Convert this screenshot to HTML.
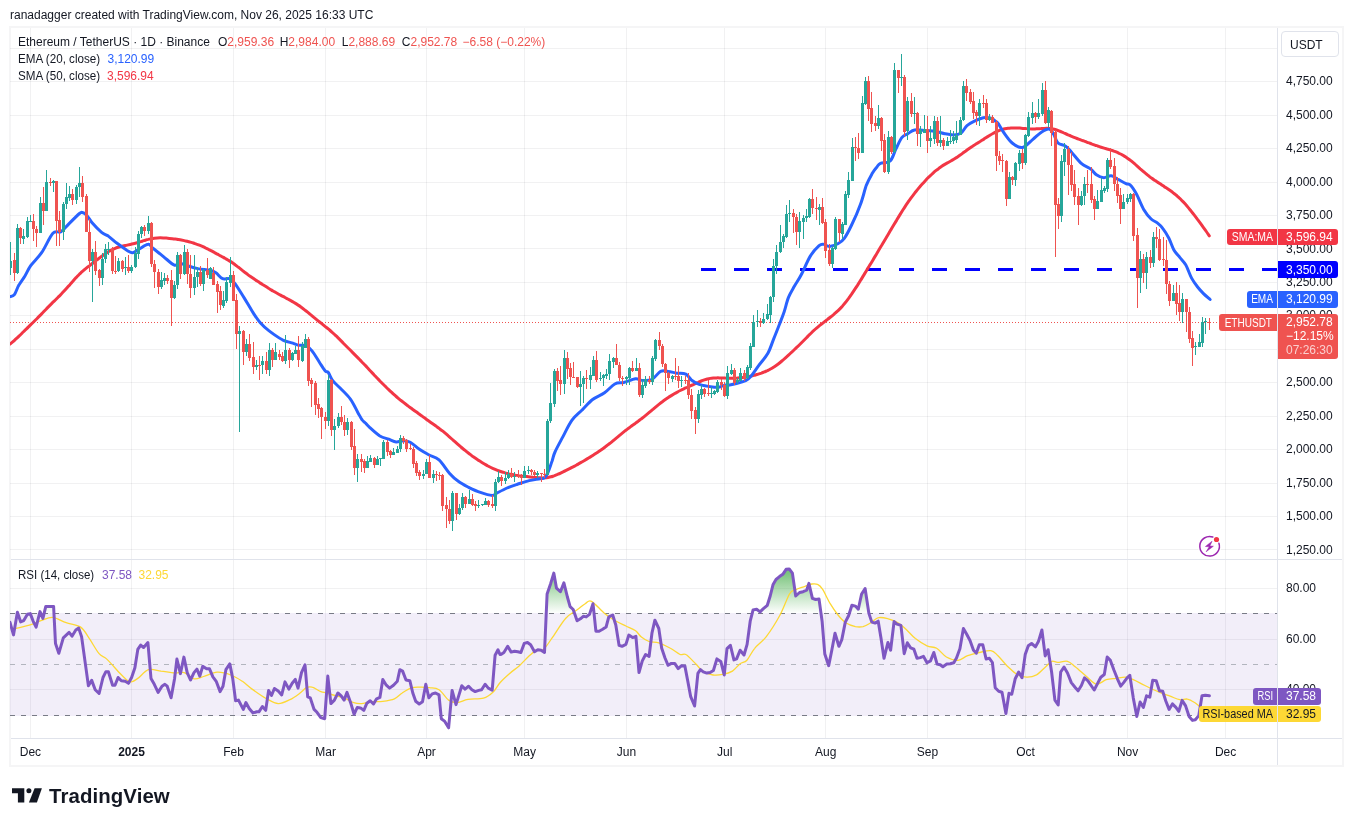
<!DOCTYPE html>
<html><head><meta charset="utf-8"><title>ETHUSDT chart</title>
<style>
html,body{margin:0;padding:0;background:#fff}
body{width:1353px;height:826px;position:relative;overflow:hidden;font-family:"Liberation Sans",sans-serif}
.t{position:absolute;white-space:nowrap;font-family:"Liberation Sans",sans-serif}
.b{position:absolute;box-sizing:border-box}
</style></head><body>
<svg width="1353" height="826" viewBox="0 0 1353 826" style="position:absolute;left:0;top:0"><defs><clipPath id="cm"><rect x="10" y="28" width="1267.5" height="531"/></clipPath><clipPath id="cr"><rect x="10" y="560" width="1267.5" height="178.5"/></clipPath><linearGradient id="gg" gradientUnits="userSpaceOnUse" x1="0" y1="572" x2="0" y2="613.6"><stop offset="0" stop-color="#4caf50" stop-opacity="0.75"/><stop offset="1" stop-color="#4caf50" stop-opacity="0"/></linearGradient><clipPath id="c70"><rect x="10" y="560" width="1267.5" height="53.6"/></clipPath></defs><rect x="10" y="27" width="1333" height="739" stroke="#f5f5f6" stroke-width="2" fill="none" shape-rendering="crispEdges"/><path d="M30.5,28V738M131.5,28V738M233.5,28V738M325.5,28V738M426.5,28V738M524.5,28V738M626.5,28V738M724.5,28V738M825.5,28V738M927.5,28V738M1025.5,28V738M1127.5,28V738M1225.5,28V738" stroke="rgba(42,46,57,0.065)" stroke-width="1" fill="none" shape-rendering="crispEdges"/><path d="M10,48.5H1277M10,81.5H1277M10,115.5H1277M10,148.5H1277M10,182.5H1277M10,215.5H1277M10,248.5H1277M10,282.5H1277M10,315.5H1277M10,349.5H1277M10,382.5H1277M10,416.5H1277M10,449.5H1277M10,483.5H1277M10,516.5H1277M10,549.5H1277M10,588.5H1277M10,639.5H1277M10,689.5H1277" stroke="rgba(42,46,57,0.065)" stroke-width="1" fill="none" shape-rendering="crispEdges"/><rect x="10" y="613" width="1267.5" height="103" fill="#7e57c2" fill-opacity="0.1"/><path d="M10,613.5H1277.5" stroke="#787b86" stroke-width="1" stroke-dasharray="5 6" fill="none" shape-rendering="crispEdges"/><path d="M10,664.5H1277.5" stroke="#b2b5be" stroke-width="1" stroke-dasharray="5 6" fill="none" shape-rendering="crispEdges"/><path d="M10,715.5H1277.5" stroke="#787b86" stroke-width="1" stroke-dasharray="5 6" fill="none" shape-rendering="crispEdges"/><g clip-path="url(#cm)"><path d="M10,322.5H1219" stroke="#ef5350" stroke-width="1" stroke-dasharray="1 2" fill="none" shape-rendering="crispEdges"/><path d="M701,269.5H1278" stroke="#0000ff" stroke-width="3" stroke-dasharray="15 18" fill="none"/><path d="M10.0,344.2C10.5,343.8 12.0,342.6 13.0,341.7C14.0,340.8 15.0,339.8 16.0,338.9C17.0,338.0 18.0,337.1 19.0,336.1C20.0,335.2 21.0,334.2 22.0,333.2C23.0,332.2 24.0,331.3 25.0,330.3C26.0,329.3 27.0,328.4 28.0,327.4C29.0,326.4 30.0,325.4 31.0,324.4C32.0,323.5 33.0,322.5 34.0,321.5C35.0,320.5 36.0,319.5 37.1,318.5C38.1,317.4 39.1,316.4 40.1,315.4C41.1,314.4 42.1,313.3 43.1,312.3C44.1,311.2 45.1,310.2 46.1,309.2C47.1,308.1 48.1,307.1 49.1,306.1C50.1,305.1 51.1,304.1 52.1,303.1C53.1,302.1 54.1,301.2 55.1,300.2C56.1,299.2 57.1,298.2 58.1,297.2C59.1,296.3 60.1,295.3 61.1,294.2C62.1,293.2 63.1,292.2 64.1,291.1C65.1,290.0 66.1,288.9 67.1,287.8C68.1,286.7 69.1,285.5 70.1,284.4C71.1,283.2 72.1,282.1 73.1,281.0C74.1,279.8 75.1,278.7 76.1,277.6C77.1,276.6 78.1,275.5 79.1,274.5C80.1,273.6 81.1,272.6 82.1,271.7C83.1,270.8 84.1,270.0 85.1,269.1C86.1,268.3 87.1,267.5 88.1,266.7C89.2,265.9 90.2,265.1 91.2,264.3C92.2,263.6 93.2,262.8 94.2,262.0C95.2,261.3 96.2,260.5 97.2,259.7C98.2,259.0 99.2,258.2 100.2,257.4C101.2,256.7 102.2,255.9 103.2,255.2C104.2,254.5 105.2,253.8 106.2,253.2C107.2,252.5 108.2,251.9 109.2,251.3C110.2,250.7 111.2,250.2 112.2,249.7C113.2,249.2 114.2,248.7 115.2,248.3C116.2,247.9 117.2,247.6 118.2,247.3C119.2,246.9 120.2,246.7 121.2,246.4C122.2,246.2 123.2,246.0 124.2,245.7C125.2,245.5 126.2,245.4 127.2,245.1C128.2,244.9 129.2,244.7 130.2,244.5C131.2,244.3 132.2,244.1 133.2,243.8C134.2,243.6 135.2,243.3 136.2,243.0C137.2,242.8 138.2,242.4 139.2,242.1C140.2,241.8 141.3,241.5 142.3,241.2C143.3,240.9 144.3,240.5 145.3,240.2C146.3,239.9 147.3,239.6 148.3,239.4C149.3,239.1 150.3,238.9 151.3,238.7C152.3,238.5 153.3,238.3 154.3,238.2C155.3,238.1 156.3,238.0 157.3,237.9C158.3,237.8 159.3,237.8 160.3,237.8C161.3,237.8 162.3,237.8 163.3,237.9C164.3,237.9 165.3,238.0 166.3,238.1C167.3,238.2 168.3,238.3 169.3,238.4C170.3,238.5 171.3,238.6 172.3,238.7C173.3,238.8 174.3,239.0 175.3,239.1C176.3,239.2 177.3,239.4 178.3,239.5C179.3,239.7 180.3,239.9 181.3,240.0C182.3,240.2 183.3,240.4 184.3,240.6C185.3,240.8 186.3,241.1 187.3,241.3C188.3,241.6 189.3,241.8 190.3,242.1C191.3,242.4 192.3,242.7 193.4,243.0C194.4,243.4 195.4,243.7 196.4,244.1C197.4,244.4 198.4,244.8 199.4,245.2C200.4,245.6 201.4,246.0 202.4,246.4C203.4,246.8 204.4,247.3 205.4,247.8C206.4,248.2 207.4,248.7 208.4,249.3C209.4,249.8 210.4,250.3 211.4,250.8C212.4,251.4 213.4,251.9 214.4,252.5C215.4,253.1 216.4,253.6 217.4,254.2C218.4,254.7 219.4,255.3 220.4,255.8C221.4,256.4 222.4,256.9 223.4,257.4C224.4,258.0 225.4,258.5 226.4,259.1C227.4,259.7 228.4,260.3 229.4,260.9C230.4,261.5 231.4,262.1 232.4,262.8C233.4,263.5 234.4,264.2 235.4,265.0C236.4,265.7 237.4,266.5 238.4,267.2C239.4,268.0 240.4,268.8 241.4,269.6C242.4,270.4 243.4,271.2 244.4,272.0C245.5,272.8 246.5,273.6 247.5,274.3C248.5,275.1 249.5,275.8 250.5,276.5C251.5,277.2 252.5,277.9 253.5,278.6C254.5,279.3 255.5,280.0 256.5,280.6C257.5,281.3 258.5,281.9 259.5,282.6C260.5,283.2 261.5,283.8 262.5,284.5C263.5,285.1 264.5,285.7 265.5,286.3C266.5,287.0 267.5,287.6 268.5,288.2C269.5,288.8 270.5,289.5 271.5,290.1C272.5,290.7 273.5,291.2 274.5,291.8C275.5,292.4 276.5,293.0 277.5,293.5C278.5,294.1 279.5,294.6 280.5,295.1C281.5,295.7 282.5,296.2 283.5,296.7C284.5,297.2 285.5,297.8 286.5,298.3C287.5,298.8 288.5,299.3 289.5,299.9C290.5,300.4 291.5,301.0 292.5,301.6C293.5,302.2 294.5,302.8 295.5,303.4C296.5,304.0 297.6,304.7 298.6,305.4C299.6,306.0 300.6,306.8 301.6,307.5C302.6,308.2 303.6,309.0 304.6,309.8C305.6,310.6 306.6,311.4 307.6,312.2C308.6,313.0 309.6,313.8 310.6,314.7C311.6,315.5 312.6,316.3 313.6,317.2C314.6,318.0 315.6,318.8 316.6,319.6C317.6,320.4 318.6,321.2 319.6,322.0C320.6,322.8 321.6,323.6 322.6,324.4C323.6,325.2 324.6,326.0 325.6,326.8C326.6,327.6 327.6,328.4 328.6,329.2C329.6,330.1 330.6,330.9 331.6,331.8C332.6,332.7 333.6,333.6 334.6,334.5C335.6,335.5 336.6,336.4 337.6,337.4C338.6,338.4 339.6,339.4 340.6,340.4C341.6,341.4 342.6,342.4 343.6,343.5C344.6,344.5 345.6,345.5 346.6,346.5C347.6,347.5 348.6,348.5 349.7,349.5C350.7,350.6 351.7,351.6 352.7,352.6C353.7,353.6 354.7,354.6 355.7,355.6C356.7,356.6 357.7,357.6 358.7,358.6C359.7,359.6 360.7,360.7 361.7,361.7C362.7,362.7 363.7,363.8 364.7,364.8C365.7,365.9 366.7,367.0 367.7,368.0C368.7,369.1 369.7,370.2 370.7,371.2C371.7,372.3 372.7,373.4 373.7,374.4C374.7,375.5 375.7,376.5 376.7,377.6C377.7,378.6 378.7,379.7 379.7,380.7C380.7,381.7 381.7,382.8 382.7,383.8C383.7,384.8 384.7,385.8 385.7,386.7C386.7,387.7 387.7,388.7 388.7,389.6C389.7,390.6 390.7,391.5 391.7,392.4C392.7,393.4 393.7,394.3 394.7,395.2C395.7,396.1 396.7,396.9 397.7,397.8C398.7,398.7 399.7,399.5 400.7,400.3C401.8,401.1 402.8,401.9 403.8,402.7C404.8,403.5 405.8,404.3 406.8,405.0C407.8,405.7 408.8,406.5 409.8,407.2C410.8,407.9 411.8,408.7 412.8,409.4C413.8,410.1 414.8,410.8 415.8,411.6C416.8,412.3 417.8,413.0 418.8,413.8C419.8,414.5 420.8,415.2 421.8,415.9C422.8,416.7 423.8,417.4 424.8,418.1C425.8,418.8 426.8,419.6 427.8,420.3C428.8,421.0 429.8,421.7 430.8,422.4C431.8,423.1 432.8,423.8 433.8,424.5C434.8,425.2 435.8,425.9 436.8,426.7C437.8,427.4 438.8,428.1 439.8,428.9C440.8,429.6 441.8,430.4 442.8,431.2C443.8,432.0 444.8,432.9 445.8,433.7C446.8,434.6 447.8,435.5 448.8,436.3C449.8,437.2 450.8,438.1 451.8,439.0C452.8,439.9 453.9,440.8 454.9,441.7C455.9,442.6 456.9,443.5 457.9,444.4C458.9,445.3 459.9,446.1 460.9,447.0C461.9,447.8 462.9,448.7 463.9,449.5C464.9,450.3 465.9,451.1 466.9,451.9C467.9,452.7 468.9,453.5 469.9,454.2C470.9,455.0 471.9,455.7 472.9,456.5C473.9,457.2 474.9,457.9 475.9,458.6C476.9,459.3 477.9,460.0 478.9,460.6C479.9,461.3 480.9,461.9 481.9,462.5C482.9,463.1 483.9,463.7 484.9,464.3C485.9,464.9 486.9,465.4 487.9,466.0C488.9,466.5 489.9,467.0 490.9,467.5C491.9,468.0 492.9,468.5 493.9,468.9C494.9,469.4 495.9,469.8 496.9,470.2C497.9,470.6 498.9,470.9 499.9,471.3C500.9,471.6 501.9,471.9 502.9,472.2C503.9,472.6 504.9,472.8 506.0,473.1C507.0,473.4 508.0,473.6 509.0,473.9C510.0,474.1 511.0,474.3 512.0,474.5C513.0,474.7 514.0,474.9 515.0,475.1C516.0,475.3 517.0,475.5 518.0,475.6C519.0,475.8 520.0,475.9 521.0,476.0C522.0,476.2 523.0,476.3 524.0,476.4C525.0,476.5 526.0,476.5 527.0,476.6C528.0,476.7 529.0,476.8 530.0,476.9C531.0,477.0 532.0,477.1 533.0,477.2C534.0,477.2 535.0,477.3 536.0,477.4C537.0,477.5 538.0,477.6 539.0,477.7C540.0,477.8 541.0,477.8 542.0,477.9C543.0,477.9 544.0,477.9 545.0,477.8C546.0,477.8 547.0,477.7 548.0,477.5C549.0,477.3 550.0,477.1 551.0,476.8C552.0,476.6 553.0,476.2 554.0,475.9C555.0,475.5 556.0,475.1 557.0,474.7C558.1,474.2 559.1,473.8 560.1,473.3C561.1,472.8 562.1,472.3 563.1,471.8C564.1,471.4 565.1,470.9 566.1,470.4C567.1,469.9 568.1,469.4 569.1,468.9C570.1,468.4 571.1,467.8 572.1,467.3C573.1,466.8 574.1,466.3 575.1,465.8C576.1,465.2 577.1,464.7 578.1,464.1C579.1,463.6 580.1,463.0 581.1,462.4C582.1,461.9 583.1,461.3 584.1,460.7C585.1,460.1 586.1,459.5 587.1,458.9C588.1,458.3 589.1,457.7 590.1,457.1C591.1,456.5 592.1,455.9 593.1,455.2C594.1,454.6 595.1,454.0 596.1,453.3C597.1,452.7 598.1,452.0 599.1,451.3C600.1,450.6 601.1,449.9 602.1,449.2C603.1,448.5 604.1,447.8 605.1,447.0C606.1,446.3 607.1,445.5 608.1,444.7C609.1,443.9 610.2,443.1 611.2,442.3C612.2,441.5 613.2,440.7 614.2,439.8C615.2,439.0 616.2,438.1 617.2,437.3C618.2,436.5 619.2,435.6 620.2,434.8C621.2,434.0 622.2,433.2 623.2,432.4C624.2,431.6 625.2,430.8 626.2,430.0C627.2,429.3 628.2,428.5 629.2,427.8C630.2,427.0 631.2,426.3 632.2,425.5C633.2,424.8 634.2,424.1 635.2,423.4C636.2,422.6 637.2,421.9 638.2,421.2C639.2,420.4 640.2,419.7 641.2,418.9C642.2,418.2 643.2,417.4 644.2,416.6C645.2,415.8 646.2,415.0 647.2,414.2C648.2,413.4 649.2,412.6 650.2,411.7C651.2,410.9 652.2,410.0 653.2,409.2C654.2,408.3 655.2,407.5 656.2,406.6C657.2,405.8 658.2,405.0 659.2,404.2C660.2,403.4 661.2,402.6 662.3,401.8C663.3,401.0 664.3,400.3 665.3,399.6C666.3,398.9 667.3,398.2 668.3,397.5C669.3,396.8 670.3,396.2 671.3,395.6C672.3,395.0 673.3,394.4 674.3,393.8C675.3,393.2 676.3,392.6 677.3,392.1C678.3,391.5 679.3,391.0 680.3,390.5C681.3,390.0 682.3,389.5 683.3,389.1C684.3,388.6 685.3,388.1 686.3,387.7C687.3,387.2 688.3,386.8 689.3,386.3C690.3,385.9 691.3,385.4 692.3,385.0C693.3,384.5 694.3,384.1 695.3,383.6C696.3,383.2 697.3,382.7 698.3,382.3C699.3,381.8 700.3,381.4 701.3,381.0C702.3,380.6 703.3,380.3 704.3,379.9C705.3,379.6 706.3,379.3 707.3,379.0C708.3,378.8 709.3,378.6 710.3,378.4C711.3,378.2 712.3,378.1 713.3,378.0C714.4,377.9 715.4,377.9 716.4,377.9C717.4,377.8 718.4,377.8 719.4,377.9C720.4,377.9 721.4,377.9 722.4,378.0C723.4,378.0 724.4,378.0 725.4,378.1C726.4,378.1 727.4,378.2 728.4,378.2C729.4,378.2 730.4,378.2 731.4,378.2C732.4,378.2 733.4,378.2 734.4,378.2C735.4,378.2 736.4,378.1 737.4,378.1C738.4,378.0 739.4,377.9 740.4,377.8C741.4,377.7 742.4,377.6 743.4,377.5C744.4,377.4 745.4,377.2 746.4,377.0C747.4,376.9 748.4,376.7 749.4,376.4C750.4,376.2 751.4,376.0 752.4,375.8C753.4,375.5 754.4,375.3 755.4,375.0C756.4,374.7 757.4,374.4 758.4,374.1C759.4,373.8 760.4,373.4 761.4,373.1C762.4,372.7 763.4,372.3 764.4,371.9C765.4,371.5 766.5,371.0 767.5,370.6C768.5,370.1 769.5,369.6 770.5,369.0C771.5,368.5 772.5,367.9 773.5,367.2C774.5,366.6 775.5,365.9 776.5,365.2C777.5,364.5 778.5,363.8 779.5,363.0C780.5,362.2 781.5,361.3 782.5,360.5C783.5,359.6 784.5,358.7 785.5,357.8C786.5,356.9 787.5,356.0 788.5,355.1C789.5,354.2 790.5,353.3 791.5,352.3C792.5,351.4 793.5,350.5 794.5,349.5C795.5,348.6 796.5,347.6 797.5,346.7C798.5,345.7 799.5,344.7 800.5,343.7C801.5,342.7 802.5,341.7 803.5,340.7C804.5,339.7 805.5,338.7 806.5,337.7C807.5,336.7 808.5,335.6 809.5,334.6C810.5,333.7 811.5,332.7 812.5,331.7C813.5,330.8 814.5,329.9 815.5,329.0C816.5,328.1 817.5,327.3 818.6,326.4C819.6,325.6 820.6,324.8 821.6,324.0C822.6,323.2 823.6,322.4 824.6,321.6C825.6,320.8 826.6,320.1 827.6,319.3C828.6,318.6 829.6,317.8 830.6,317.0C831.6,316.2 832.6,315.4 833.6,314.6C834.6,313.7 835.6,312.9 836.6,311.9C837.6,311.0 838.6,310.1 839.6,309.1C840.6,308.1 841.6,307.0 842.6,305.9C843.6,304.7 844.6,303.5 845.6,302.3C846.6,301.0 847.6,299.7 848.6,298.4C849.6,297.0 850.6,295.6 851.6,294.2C852.6,292.7 853.6,291.2 854.6,289.7C855.6,288.2 856.6,286.6 857.6,285.1C858.6,283.5 859.6,281.9 860.6,280.3C861.6,278.7 862.6,277.0 863.6,275.4C864.6,273.7 865.6,272.1 866.6,270.4C867.6,268.7 868.6,267.1 869.6,265.4C870.7,263.7 871.7,262.1 872.7,260.4C873.7,258.7 874.7,257.0 875.7,255.4C876.7,253.7 877.7,252.0 878.7,250.3C879.7,248.6 880.7,246.9 881.7,245.3C882.7,243.6 883.7,241.9 884.7,240.2C885.7,238.5 886.7,236.9 887.7,235.2C888.7,233.5 889.7,231.8 890.7,230.1C891.7,228.5 892.7,226.8 893.7,225.1C894.7,223.4 895.7,221.7 896.7,220.1C897.7,218.4 898.7,216.7 899.7,215.1C900.7,213.5 901.7,211.9 902.7,210.3C903.7,208.7 904.7,207.1 905.7,205.6C906.7,204.1 907.7,202.7 908.7,201.2C909.7,199.8 910.7,198.5 911.7,197.1C912.7,195.8 913.7,194.5 914.7,193.2C915.7,191.9 916.7,190.7 917.7,189.4C918.7,188.2 919.7,187.0 920.7,185.8C921.7,184.7 922.8,183.5 923.8,182.4C924.8,181.3 925.8,180.2 926.8,179.1C927.8,178.1 928.8,177.0 929.8,176.1C930.8,175.1 931.8,174.2 932.8,173.3C933.8,172.4 934.8,171.5 935.8,170.7C936.8,169.9 937.8,169.1 938.8,168.4C939.8,167.6 940.8,167.0 941.8,166.3C942.8,165.6 943.8,165.0 944.8,164.4C945.8,163.8 946.8,163.2 947.8,162.7C948.8,162.1 949.8,161.5 950.8,161.0C951.8,160.4 952.8,159.8 953.8,159.2C954.8,158.6 955.8,158.0 956.8,157.4C957.8,156.7 958.8,156.0 959.8,155.3C960.8,154.6 961.8,153.9 962.8,153.1C963.8,152.4 964.8,151.7 965.8,151.0C966.8,150.2 967.8,149.5 968.8,148.8C969.8,148.1 970.8,147.4 971.8,146.7C972.8,146.1 973.8,145.4 974.9,144.8C975.9,144.2 976.9,143.5 977.9,142.9C978.9,142.3 979.9,141.6 980.9,141.0C981.9,140.4 982.9,139.7 983.9,139.1C984.9,138.4 985.9,137.8 986.9,137.1C987.9,136.5 988.9,135.9 989.9,135.3C990.9,134.6 991.9,134.0 992.9,133.5C993.9,132.9 994.9,132.4 995.9,131.9C996.9,131.4 997.9,131.0 998.9,130.6C999.9,130.2 1000.9,129.9 1001.9,129.6C1002.9,129.3 1003.9,129.0 1004.9,128.8C1005.9,128.6 1006.9,128.4 1007.9,128.3C1008.9,128.2 1009.9,128.1 1010.9,128.0C1011.9,128.0 1012.9,127.9 1013.9,127.9C1014.9,127.9 1015.9,127.9 1016.9,128.0C1017.9,128.0 1018.9,128.1 1019.9,128.1C1020.9,128.2 1021.9,128.3 1022.9,128.4C1023.9,128.4 1024.9,128.5 1025.9,128.6C1027.0,128.6 1028.0,128.7 1029.0,128.8C1030.0,128.8 1031.0,128.8 1032.0,128.9C1033.0,128.9 1034.0,128.9 1035.0,128.9C1036.0,128.8 1037.0,128.8 1038.0,128.7C1039.0,128.7 1040.0,128.6 1041.0,128.6C1042.0,128.5 1043.0,128.4 1044.0,128.4C1045.0,128.3 1046.0,128.3 1047.0,128.3C1048.0,128.4 1049.0,128.4 1050.0,128.5C1051.0,128.6 1052.0,128.8 1053.0,129.0C1054.0,129.2 1055.0,129.5 1056.0,129.8C1057.0,130.1 1058.0,130.5 1059.0,130.9C1060.0,131.3 1061.0,131.7 1062.0,132.1C1063.0,132.5 1064.0,133.0 1065.0,133.4C1066.0,133.9 1067.0,134.4 1068.0,134.8C1069.0,135.2 1070.0,135.7 1071.0,136.1C1072.0,136.5 1073.0,136.9 1074.0,137.3C1075.0,137.7 1076.0,138.1 1077.0,138.5C1078.0,138.9 1079.1,139.2 1080.1,139.6C1081.1,140.0 1082.1,140.4 1083.1,140.7C1084.1,141.1 1085.1,141.5 1086.1,141.8C1087.1,142.2 1088.1,142.6 1089.1,142.9C1090.1,143.3 1091.1,143.7 1092.1,144.1C1093.1,144.4 1094.1,144.8 1095.1,145.2C1096.1,145.5 1097.1,145.9 1098.1,146.2C1099.1,146.6 1100.1,146.9 1101.1,147.2C1102.1,147.5 1103.1,147.8 1104.1,148.1C1105.1,148.4 1106.1,148.7 1107.1,149.0C1108.1,149.3 1109.1,149.6 1110.1,149.9C1111.1,150.2 1112.1,150.5 1113.1,150.8C1114.1,151.2 1115.1,151.5 1116.1,151.9C1117.1,152.3 1118.1,152.8 1119.1,153.3C1120.1,153.7 1121.1,154.3 1122.1,154.8C1123.1,155.4 1124.1,156.0 1125.1,156.6C1126.1,157.3 1127.1,158.0 1128.1,158.7C1129.1,159.4 1130.1,160.2 1131.2,160.9C1132.2,161.7 1133.2,162.6 1134.2,163.4C1135.2,164.3 1136.2,165.2 1137.2,166.1C1138.2,167.0 1139.2,167.9 1140.2,168.8C1141.2,169.6 1142.2,170.5 1143.2,171.4C1144.2,172.3 1145.2,173.1 1146.2,173.9C1147.2,174.8 1148.2,175.6 1149.2,176.3C1150.2,177.1 1151.2,177.8 1152.2,178.5C1153.2,179.3 1154.2,179.9 1155.2,180.6C1156.2,181.3 1157.2,182.0 1158.2,182.6C1159.2,183.3 1160.2,183.9 1161.2,184.6C1162.2,185.3 1163.2,185.9 1164.2,186.6C1165.2,187.2 1166.2,187.9 1167.2,188.5C1168.2,189.2 1169.2,189.9 1170.2,190.6C1171.2,191.3 1172.2,192.0 1173.2,192.8C1174.2,193.6 1175.2,194.4 1176.2,195.2C1177.2,196.1 1178.2,196.9 1179.2,197.9C1180.2,198.8 1181.2,199.8 1182.2,200.9C1183.3,201.9 1184.3,203.0 1185.3,204.1C1186.3,205.2 1187.3,206.4 1188.3,207.6C1189.3,208.8 1190.3,210.1 1191.3,211.3C1192.3,212.6 1193.3,213.9 1194.3,215.2C1195.3,216.5 1196.3,217.8 1197.3,219.2C1198.3,220.5 1199.3,221.8 1200.3,223.2C1201.3,224.6 1202.3,226.0 1203.3,227.3C1204.3,228.7 1205.3,230.1 1206.3,231.5C1207.3,232.9 1208.8,235.1 1209.3,235.8" stroke="#f23645" stroke-width="3" fill="none" stroke-linejoin="round" stroke-linecap="round"/><path d="M10.0,296.6C10.7,296.3 13.0,296.6 14.4,294.7C15.9,292.7 17.1,288.1 18.9,285.1C20.6,282.0 22.8,279.4 24.8,276.2C26.8,273.0 27.9,269.7 30.7,265.7C33.5,261.7 38.1,257.8 41.8,252.4C45.5,247.0 49.7,236.6 52.9,233.2C56.1,229.7 58.3,233.3 61.0,231.7C63.7,230.1 66.0,226.6 69.1,223.6C72.2,220.5 77.3,215.4 79.5,213.5C81.7,211.7 81.2,212.2 82.4,212.5C83.7,212.8 85.1,213.6 86.9,215.4C88.6,217.3 90.3,220.7 92.8,223.6C95.2,226.4 99.1,230.3 101.6,232.4C104.2,234.5 105.8,234.4 108.3,236.1C110.8,237.9 113.4,240.4 116.4,242.8C119.5,245.1 124.1,248.5 126.8,250.2C129.5,251.8 130.7,253.0 132.7,252.8C134.7,252.7 136.0,250.9 138.6,249.4C141.2,248.0 145.9,244.5 148.2,244.3C150.6,244.0 150.1,245.9 152.6,248.0C155.2,250.0 160.2,254.0 163.7,256.8C167.3,259.7 171.4,263.8 174.1,265.0C176.8,266.1 177.8,263.4 180.0,263.5C182.2,263.6 184.4,264.8 187.4,265.7C190.3,266.6 194.0,267.9 197.7,268.6C201.5,269.4 207.0,269.5 210.0,270.2C213.0,270.9 213.8,271.4 215.9,272.8C218.0,274.2 220.3,277.7 222.6,278.7C224.8,279.7 227.2,278.0 229.2,278.7C231.2,279.4 231.9,279.7 234.4,282.9C236.9,286.0 240.9,292.7 244.0,297.6C247.1,302.6 250.2,308.2 252.9,312.4C255.6,316.6 257.5,319.7 260.3,322.8C263.0,325.9 265.4,328.1 269.1,330.9C272.8,333.7 278.5,337.7 282.4,339.8C286.4,341.8 290.1,342.3 292.8,343.2C295.5,344.1 296.5,344.8 298.7,345.2C300.9,345.7 303.9,344.8 306.1,345.7C308.3,346.6 309.8,348.1 312.0,350.9C314.2,353.6 317.2,358.8 319.4,362.2C321.6,365.5 323.8,369.3 325.3,371.0C326.8,372.8 327.0,370.9 328.3,372.5C329.5,374.1 330.7,378.1 332.7,380.7C334.7,383.2 337.1,385.0 340.1,388.0C343.0,391.1 347.5,395.1 350.4,399.1C353.4,403.2 355.9,409.0 357.8,412.4C359.8,415.9 360.9,418.3 362.2,420.0C363.4,421.7 364.0,421.5 365.2,422.8C366.4,424.0 367.1,425.2 369.6,427.4C372.0,429.6 376.7,434.0 379.9,436.0C383.1,437.9 386.1,438.2 388.8,439.2C391.5,440.2 393.7,441.6 396.2,441.9C398.6,442.1 401.2,440.6 403.6,440.7C405.9,440.7 407.5,440.7 410.2,442.2C412.9,443.7 416.7,447.5 419.8,449.6C422.9,451.7 425.5,453.0 428.7,454.7C431.9,456.5 435.6,456.8 439.0,459.9C442.5,463.0 446.2,469.6 449.4,473.2C452.6,476.8 455.1,479.0 458.3,481.3C461.5,483.7 464.9,485.4 468.6,487.3C472.3,489.1 476.5,491.1 480.4,492.4C484.4,493.8 489.5,495.3 492.3,495.4C495.0,495.5 494.2,494.4 496.7,493.2C499.2,491.9 503.6,489.5 507.0,488.0C510.5,486.5 513.7,485.5 517.4,484.3C521.1,483.1 525.4,481.5 529.2,480.6C533.0,479.7 537.5,479.3 540.0,478.8C542.5,478.4 543.1,478.9 544.4,477.9C545.7,477.0 546.4,475.8 547.7,473.0C549.0,470.2 550.8,464.5 552.1,461.0C553.3,457.5 553.1,456.1 555.0,452.0C556.8,447.9 560.3,441.7 563.1,436.4C565.9,431.1 568.8,424.6 572.0,420.2C575.2,415.7 578.9,413.3 582.3,409.8C585.8,406.4 589.0,402.3 592.6,399.5C596.3,396.6 600.8,395.4 604.5,392.8C608.2,390.2 611.6,385.7 614.8,384.0C618.0,382.2 620.2,383.3 623.7,382.5C627.1,381.6 632.6,379.2 635.5,378.8C638.5,378.4 638.7,380.1 641.4,380.3C644.1,380.4 648.6,381.0 651.8,379.5C655.0,378.0 657.9,372.7 660.6,371.4C663.4,370.0 665.3,371.1 668.0,371.4C670.7,371.7 674.0,372.7 676.9,373.2C679.9,373.6 683.3,372.9 685.8,374.1C688.2,375.2 689.5,378.5 691.7,380.3C693.9,382.0 695.6,383.3 699.1,384.4C702.5,385.5 708.9,386.5 712.4,386.9C715.8,387.3 717.7,387.2 719.8,386.9C721.9,386.6 723.8,385.4 725.0,385.1C726.2,384.9 725.6,385.6 727.2,385.4C728.7,385.2 731.3,384.8 734.4,384.0C737.5,383.2 742.8,382.1 745.7,380.7C748.6,379.3 749.4,378.1 751.6,375.5C753.8,372.9 756.3,368.9 759.0,365.2C761.7,361.5 765.4,357.8 767.9,353.3C770.3,348.9 771.8,343.5 773.8,338.6C775.8,333.6 778.0,328.2 779.7,323.8C781.4,319.3 782.6,316.4 784.1,312.0C785.6,307.5 786.8,301.5 788.6,297.2C790.3,292.9 792.4,289.8 794.5,286.1C796.6,282.4 798.5,280.0 801.1,275.0C803.8,270.0 807.3,261.0 810.3,256.1C813.3,251.2 816.9,247.7 819.1,245.7C821.3,243.8 821.8,244.1 823.6,244.3C825.3,244.4 827.0,246.6 829.5,246.5C831.9,246.4 835.9,244.9 838.3,243.5C840.8,242.2 842.0,241.4 844.3,238.3C846.5,235.3 848.9,230.7 851.6,225.0C854.4,219.4 858.1,211.0 860.5,204.3C863.0,197.7 864.5,190.3 866.4,185.1C868.4,180.0 870.6,176.3 872.3,173.3C874.1,170.3 875.5,168.6 876.9,167.0C878.2,165.3 878.3,164.3 880.5,163.3C882.7,162.3 887.6,163.5 890.2,161.0C892.8,158.6 894.1,152.4 896.1,148.5C898.1,144.5 900.0,139.9 902.0,137.4C904.0,134.9 905.8,134.9 907.9,133.7C910.0,132.5 911.6,130.5 914.6,130.0C917.5,129.5 922.1,130.2 925.6,130.4C929.2,130.7 932.8,130.9 936.0,131.5C939.2,132.0 941.9,133.1 944.9,133.7C947.8,134.3 951.0,135.0 953.7,134.9C956.4,134.8 958.9,134.5 961.1,133.0C963.3,131.4 964.8,127.5 967.0,125.6C969.3,123.6 971.7,122.4 974.4,121.1C977.1,119.8 980.7,118.3 983.3,117.7C985.9,117.2 988.5,117.7 990.0,117.9C991.5,118.1 991.2,118.3 992.2,118.9C993.2,119.5 994.9,120.8 995.9,121.6C996.9,122.3 996.8,121.6 998.1,123.3C999.3,125.1 1001.0,128.6 1003.3,131.9C1005.7,135.2 1009.0,140.4 1012.2,143.0C1015.4,145.6 1019.1,148.0 1022.5,147.4C1026.0,146.8 1029.7,141.9 1032.9,139.3C1036.1,136.7 1039.0,133.6 1041.7,131.9C1044.4,130.2 1047.2,128.6 1049.1,129.0C1051.1,129.3 1052.1,131.8 1053.6,134.1C1055.0,136.5 1056.0,141.0 1058.0,143.0C1060.0,145.0 1063.2,144.5 1065.4,146.0C1067.6,147.4 1068.6,148.9 1071.3,151.9C1074.0,154.8 1078.4,160.9 1081.6,163.7C1084.9,166.5 1088.1,167.0 1090.5,168.9C1093.0,170.7 1094.2,173.3 1096.4,174.8C1098.6,176.3 1101.4,177.6 1103.8,177.7C1106.3,177.9 1108.7,175.5 1111.2,175.8C1113.7,176.1 1116.1,178.4 1118.6,179.7C1121.1,181.0 1124.0,182.7 1126.0,183.6C1128.0,184.6 1128.7,183.4 1130.4,185.1C1132.2,186.8 1134.1,189.8 1136.3,193.8C1138.6,197.9 1141.3,205.2 1143.7,209.4C1146.2,213.6 1148.9,216.8 1151.1,219.0C1153.3,221.2 1155.1,221.1 1157.0,222.7C1159.0,224.3 1161.0,226.0 1162.9,228.6C1164.9,231.2 1167.0,234.6 1168.9,238.2C1170.7,241.8 1172.1,246.8 1173.9,250.0C1175.7,253.2 1177.8,254.9 1179.8,257.4C1181.8,259.9 1183.7,261.4 1185.7,264.8C1187.7,268.2 1189.6,274.4 1191.6,278.1C1193.6,281.8 1195.6,284.4 1197.6,287.0C1199.6,289.6 1201.4,291.5 1203.5,293.6C1205.6,295.7 1209.0,298.5 1210.1,299.5" stroke="#2962ff" stroke-width="3" fill="none" stroke-linejoin="round" stroke-linecap="round"/><path d="M10.5,242V275M17.5,224V274M23.5,229V244M27.5,217V238M30.5,215V222M40.5,197V233M46.5,170V211M53.5,180V192M63.5,202V240M66.5,183V209M69.5,186V201M76.5,185V204M79.5,167V197M92.5,249V302M102.5,253V285M105.5,244V263M108.5,242V255M118.5,258V272M125.5,257V275M131.5,265V273M135.5,247V268M138.5,231V259M141.5,226V238M148.5,216V234M161.5,272V289M164.5,273V285M174.5,281V299M177.5,252V289M184.5,245V275M194.5,255V295M197.5,267V287M203.5,269V291M210.5,267V279M223.5,291V308M226.5,277V303M230.5,257V287M239.5,326V432M246.5,339V356M256.5,360V370M262.5,356V374M269.5,343V376M275.5,343V360M285.5,335V364M292.5,352V361M295.5,346V354M302.5,342V362M305.5,334V348M328.5,375V426M334.5,419V450M338.5,413V428M347.5,418V435M357.5,454V482M367.5,456V468M370.5,455V462M377.5,456V465M380.5,458V466M383.5,440V459M393.5,448V455M397.5,446V453M400.5,435V452M423.5,470V479M426.5,459V474M433.5,470V483M452.5,491V531M459.5,504V515M462.5,493V510M469.5,490V504M478.5,500V508M482.5,504V506M485.5,498V505M495.5,479V511M498.5,471V483M505.5,472V484M508.5,470V479M514.5,472V482M524.5,466V478M528.5,466V474M537.5,471V478M547.5,419V475M550.5,383V423M554.5,369V407M564.5,350V394M580.5,371V406M583.5,376V403M590.5,367V389M593.5,356V376M600.5,372V381M603.5,374V386M606.5,369V379M609.5,354V380M613.5,357V368M626.5,376V385M629.5,367V385M636.5,358V371M642.5,379V398M645.5,376V388M652.5,356V385M655.5,339V361M672.5,375V382M681.5,376V387M698.5,390V423M701.5,385V399M711.5,387V398M714.5,390V395M717.5,380V393M727.5,366V399M731.5,364V375M737.5,378V384M740.5,368V381M747.5,365V379M750.5,343V370M753.5,315V347M757.5,310V327M763.5,313V324M767.5,304V320M770.5,296V323M773.5,259V302M776.5,245V274M780.5,225V253M783.5,234V248M786.5,205V238M789.5,200V222M799.5,212V248M803.5,215V239M806.5,209V222M809.5,198V218M819.5,204V225M832.5,246V268M835.5,217V250M842.5,222V239M845.5,191V225M848.5,172V198M852.5,138V181M862.5,96V153M865.5,77V105M878.5,105V129M888.5,131V174M894.5,63V153M901.5,54V86M907.5,97V140M914.5,97V124M920.5,126V147M924.5,115V133M930.5,126V147M934.5,116V144M940.5,116V147M947.5,137V146M950.5,130V144M953.5,131V144M956.5,121V143M960.5,117V135M963.5,81V121M979.5,99V126M989.5,114V121M1009.5,172V199M1015.5,162V186M1019.5,150V171M1025.5,134V165M1028.5,112V137M1032.5,102V124M1038.5,99V119M1042.5,83V116M1048.5,107V127M1061.5,155V222M1064.5,143V176M1081.5,191V206M1084.5,177V205M1097.5,190V209M1101.5,178V202M1104.5,186V193M1107.5,158V192M1123.5,194V209M1127.5,194V204M1130.5,193V202M1140.5,251V293M1146.5,252V289M1153.5,232V267M1173.5,285V301M1182.5,293V323M1195.5,342V355M1199.5,334V347M1202.5,317V347M1205.5,318V334" stroke="#26a69a" stroke-width="1" fill="none" shape-rendering="crispEdges"/><path d="M14.5,253V281M20.5,227V244M33.5,214V241M36.5,226V247M43.5,187V225M50.5,178V186M56.5,181V246M59.5,211V246M72.5,189V205M82.5,176V202M86.5,194V232M89.5,219V272M95.5,241V275M99.5,269V286M112.5,247V274M115.5,256V274M122.5,260V272M128.5,255V273M144.5,225V236M151.5,222V267M154.5,260V288M158.5,269V294M167.5,275V284M171.5,270V326M180.5,254V279M187.5,249V284M190.5,255V298M200.5,266V286M207.5,258V278M213.5,267V285M217.5,281V313M220.5,286V310M233.5,271V301M236.5,294V349M243.5,330V365M249.5,334V361M253.5,342V374M259.5,356V380M266.5,352V374M272.5,348V367M279.5,350V360M282.5,352V362M289.5,348V368M298.5,336V367M308.5,337V386M311.5,378V407M315.5,381V415M318.5,398V418M321.5,407V439M325.5,412V429M331.5,379V436M341.5,406V425M344.5,415V436M351.5,421V450M354.5,429V475M361.5,454V472M364.5,459V473M374.5,457V468M387.5,440V456M390.5,450V458M403.5,436V444M406.5,439V452M410.5,444V450M413.5,447V468M416.5,461V476M419.5,470V480M429.5,455V478M436.5,471V481M439.5,472V480M442.5,474V511M446.5,497V528M449.5,500V524M456.5,493V520M465.5,496V508M472.5,494V506M475.5,501V511M488.5,500V507M492.5,495V508M501.5,475V486M511.5,468V478M518.5,470V478M521.5,474V485M531.5,469V475M534.5,470V476M541.5,473V482M544.5,469V478M557.5,368V391M560.5,366V395M567.5,352V379M570.5,363V385M573.5,362V378M577.5,377V388M586.5,370V389M596.5,351V382M616.5,344V365M619.5,362V381M622.5,376V386M632.5,361V372M639.5,363V397M649.5,376V384M659.5,332V350M662.5,344V367M665.5,363V391M668.5,372V384M675.5,358V380M678.5,366V388M685.5,376V384M688.5,373V399M691.5,389V419M695.5,407V434M704.5,388V397M708.5,380V396M721.5,379V390M724.5,382V397M734.5,368V385M744.5,370V381M760.5,318V327M793.5,209V233M796.5,214V245M812.5,189V214M816.5,197V220M822.5,198V224M825.5,219V258M829.5,244V266M839.5,219V242M855.5,137V161M858.5,133V159M868.5,76V121M871.5,92V132M875.5,116V131M881.5,117V151M884.5,134V173M891.5,136V154M898.5,70V93M904.5,75V136M911.5,93V117M917.5,112V146M927.5,116V153M937.5,117V146M943.5,138V150M966.5,79V101M970.5,89V104M973.5,92V119M976.5,110V125M983.5,95V108M986.5,99V123M992.5,115V123M996.5,120V171M999.5,151V165M1002.5,154V172M1006.5,160V206M1012.5,176V185M1022.5,149V169M1035.5,112V123M1045.5,81V124M1051.5,110V146M1055.5,130V257M1058.5,198V229M1068.5,146V195M1071.5,152V191M1074.5,170V205M1078.5,188V225M1087.5,170V193M1091.5,167V203M1094.5,196V220M1110.5,148V169M1114.5,158V191M1117.5,177V203M1120.5,188V224M1133.5,193V241M1137.5,228V308M1143.5,254V283M1150.5,250V268M1156.5,227V248M1159.5,229V261M1163.5,237V266M1166.5,240V294M1169.5,281V306M1176.5,282V315M1179.5,285V321M1186.5,299V332M1189.5,307V343M1192.5,331V366M1209.5,318V330" stroke="#ef5350" stroke-width="1" fill="none" shape-rendering="crispEdges"/><path d="M9.0,261h3V268h-3zM16.0,228h3V273h-3zM22.0,236h3V239h-3zM26.0,221h3V237h-3zM29.0,221h3V222h-3zM39.0,203h3V233h-3zM45.0,182h3V211h-3zM52.0,181h3V183h-3zM62.0,204h3V232h-3zM65.0,197h3V204h-3zM68.0,194h3V198h-3zM75.0,187h3V200h-3zM78.0,183h3V187h-3zM91.0,252h3V261h-3zM101.0,259h3V278h-3zM104.0,249h3V259h-3zM107.0,249h3V250h-3zM117.0,261h3V271h-3zM124.0,267h3V268h-3zM130.0,267h3V271h-3zM134.0,253h3V267h-3zM137.0,234h3V254h-3zM140.0,227h3V234h-3zM147.0,223h3V231h-3zM160.0,280h3V287h-3zM163.0,278h3V281h-3zM173.0,285h3V298h-3zM176.0,255h3V285h-3zM183.0,252h3V274h-3zM193.0,277h3V288h-3zM196.0,272h3V277h-3zM202.0,270h3V284h-3zM209.0,268h3V279h-3zM222.0,300h3V306h-3zM225.0,282h3V301h-3zM229.0,275h3V283h-3zM238.0,331h3V334h-3zM245.0,344h3V352h-3zM255.0,365h3V367h-3zM261.0,361h3V365h-3zM268.0,350h3V370h-3zM274.0,352h3V360h-3zM284.0,350h3V361h-3zM291.0,353h3V360h-3zM294.0,350h3V354h-3zM301.0,346h3V361h-3zM304.0,339h3V348h-3zM327.0,380h3V421h-3zM333.0,426h3V430h-3zM337.0,417h3V426h-3zM346.0,422h3V430h-3zM356.0,459h3V468h-3zM366.0,461h3V468h-3zM369.0,458h3V462h-3zM376.0,459h3V465h-3zM379.0,458h3V459h-3zM382.0,442h3V459h-3zM392.0,452h3V455h-3zM396.0,449h3V453h-3zM399.0,438h3V449h-3zM422.0,474h3V476h-3zM425.0,462h3V474h-3zM432.0,474h3V478h-3zM451.0,493h3V521h-3zM458.0,508h3V514h-3zM461.0,497h3V508h-3zM468.0,499h3V504h-3zM477.0,505h3V506h-3zM481.0,504h3V505h-3zM484.0,501h3V505h-3zM494.0,482h3V506h-3zM497.0,477h3V482h-3zM504.0,478h3V481h-3zM507.0,474h3V478h-3zM513.0,476h3V477h-3zM523.0,471h3V478h-3zM527.0,470h3V471h-3zM536.0,473h3V475h-3zM546.0,421h3V475h-3zM549.0,403h3V421h-3zM553.0,371h3V404h-3zM563.0,358h3V384h-3zM579.0,384h3V387h-3zM582.0,378h3V384h-3zM589.0,375h3V380h-3zM592.0,360h3V376h-3zM599.0,378h3V379h-3zM602.0,375h3V378h-3zM605.0,374h3V376h-3zM608.0,361h3V374h-3zM612.0,358h3V362h-3zM625.0,377h3V379h-3zM628.0,368h3V378h-3zM635.0,368h3V371h-3zM641.0,385h3V395h-3zM644.0,379h3V386h-3zM651.0,358h3V382h-3zM654.0,340h3V359h-3zM671.0,376h3V379h-3zM680.0,380h3V381h-3zM697.0,394h3V419h-3zM700.0,389h3V395h-3zM710.0,393h3V394h-3zM713.0,391h3V394h-3zM716.0,382h3V392h-3zM726.0,373h3V396h-3zM730.0,370h3V374h-3zM736.0,380h3V382h-3zM739.0,373h3V381h-3zM746.0,367h3V378h-3zM749.0,346h3V368h-3zM752.0,322h3V347h-3zM756.0,321h3V322h-3zM762.0,319h3V323h-3zM766.0,314h3V319h-3zM769.0,297h3V315h-3zM772.0,266h3V297h-3zM775.0,252h3V266h-3zM779.0,242h3V252h-3zM782.0,236h3V242h-3zM785.0,214h3V237h-3zM788.0,213h3V214h-3zM798.0,221h3V232h-3zM802.0,218h3V222h-3zM805.0,216h3V218h-3zM808.0,199h3V217h-3zM818.0,207h3V210h-3zM831.0,248h3V264h-3zM834.0,219h3V249h-3zM841.0,224h3V234h-3zM844.0,194h3V225h-3zM847.0,180h3V195h-3zM851.0,147h3V181h-3zM861.0,103h3V153h-3zM864.0,81h3V104h-3zM877.0,118h3V126h-3zM887.0,137h3V172h-3zM893.0,70h3V152h-3zM900.0,77h3V78h-3zM906.0,101h3V131h-3zM913.0,113h3V114h-3zM919.0,130h3V134h-3zM923.0,129h3V133h-3zM929.0,138h3V141h-3zM933.0,121h3V139h-3zM939.0,140h3V143h-3zM946.0,141h3V146h-3zM949.0,141h3V142h-3zM952.0,137h3V141h-3zM955.0,135h3V140h-3zM959.0,120h3V135h-3zM962.0,86h3V120h-3zM978.0,103h3V116h-3zM988.0,117h3V120h-3zM1008.0,177h3V199h-3zM1014.0,163h3V180h-3zM1018.0,153h3V164h-3zM1024.0,135h3V163h-3zM1027.0,117h3V136h-3zM1031.0,113h3V118h-3zM1037.0,113h3V117h-3zM1041.0,90h3V114h-3zM1047.0,110h3V123h-3zM1060.0,161h3V216h-3zM1063.0,149h3V162h-3zM1080.0,196h3V205h-3zM1083.0,184h3V196h-3zM1096.0,201h3V209h-3zM1100.0,190h3V202h-3zM1103.0,188h3V191h-3zM1106.0,160h3V189h-3zM1122.0,202h3V209h-3zM1126.0,198h3V202h-3zM1129.0,194h3V199h-3zM1139.0,259h3V278h-3zM1145.0,257h3V273h-3zM1152.0,237h3V263h-3zM1172.0,293h3V301h-3zM1181.0,299h3V312h-3zM1194.0,346h3V347h-3zM1198.0,342h3V347h-3zM1201.0,322h3V343h-3zM1204.0,321h3V322h-3z" fill="#26a69a" shape-rendering="crispEdges"/><path d="M13.0,260h3V273h-3zM19.0,228h3V238h-3zM32.0,221h3V229h-3zM35.0,229h3V233h-3zM42.0,203h3V211h-3zM49.0,182h3V183h-3zM55.0,181h3V221h-3zM58.0,220h3V232h-3zM71.0,194h3V200h-3zM81.0,183h3V197h-3zM85.0,196h3V232h-3zM88.0,232h3V261h-3zM94.0,252h3V271h-3zM98.0,270h3V278h-3zM111.0,249h3V271h-3zM114.0,271h3V272h-3zM121.0,261h3V269h-3zM127.0,267h3V271h-3zM143.0,227h3V231h-3zM150.0,223h3V264h-3zM153.0,264h3V272h-3zM157.0,272h3V287h-3zM166.0,278h3V281h-3zM170.0,280h3V298h-3zM179.0,255h3V274h-3zM186.0,252h3V274h-3zM189.0,274h3V288h-3zM199.0,272h3V284h-3zM206.0,270h3V275h-3zM212.0,273h3V285h-3zM216.0,284h3V292h-3zM219.0,291h3V305h-3zM232.0,275h3V301h-3zM235.0,300h3V334h-3zM242.0,331h3V352h-3zM248.0,344h3V358h-3zM252.0,357h3V367h-3zM258.0,365h3V366h-3zM265.0,361h3V370h-3zM271.0,350h3V360h-3zM278.0,354h3V357h-3zM281.0,356h3V361h-3zM288.0,350h3V360h-3zM297.0,350h3V360h-3zM307.0,339h3V381h-3zM310.0,380h3V384h-3zM314.0,383h3V405h-3zM317.0,404h3V409h-3zM320.0,408h3V417h-3zM324.0,417h3V421h-3zM330.0,380h3V430h-3zM340.0,417h3V422h-3zM343.0,422h3V430h-3zM350.0,422h3V447h-3zM353.0,446h3V468h-3zM360.0,459h3V462h-3zM363.0,461h3V468h-3zM373.0,458h3V465h-3zM386.0,442h3V452h-3zM389.0,451h3V455h-3zM402.0,438h3V441h-3zM405.0,440h3V449h-3zM409.0,448h3V449h-3zM412.0,449h3V464h-3zM415.0,463h3V473h-3zM418.0,472h3V476h-3zM428.0,462h3V478h-3zM435.0,474h3V475h-3zM438.0,475h3V476h-3zM441.0,475h3V506h-3zM445.0,505h3V509h-3zM448.0,509h3V521h-3zM455.0,493h3V514h-3zM464.0,497h3V504h-3zM471.0,499h3V505h-3zM474.0,504h3V506h-3zM487.0,501h3V505h-3zM491.0,504h3V506h-3zM500.0,477h3V481h-3zM510.0,474h3V477h-3zM517.0,476h3V477h-3zM520.0,476h3V478h-3zM530.0,470h3V472h-3zM533.0,472h3V475h-3zM540.0,473h3V474h-3zM543.0,474h3V475h-3zM556.0,371h3V381h-3zM559.0,380h3V384h-3zM566.0,358h3V369h-3zM569.0,368h3V377h-3zM572.0,377h3V378h-3zM576.0,377h3V387h-3zM585.0,378h3V379h-3zM595.0,360h3V380h-3zM615.0,358h3V365h-3zM618.0,365h3V378h-3zM621.0,378h3V379h-3zM631.0,368h3V371h-3zM638.0,368h3V395h-3zM648.0,380h3V382h-3zM658.0,340h3V346h-3zM661.0,346h3V364h-3zM664.0,364h3V373h-3zM667.0,373h3V378h-3zM674.0,376h3V377h-3zM677.0,376h3V381h-3zM684.0,380h3V381h-3zM687.0,380h3V395h-3zM690.0,395h3V411h-3zM694.0,410h3V419h-3zM703.0,389h3V394h-3zM707.0,393h3V394h-3zM720.0,382h3V385h-3zM723.0,385h3V396h-3zM733.0,370h3V383h-3zM743.0,373h3V379h-3zM759.0,321h3V323h-3zM792.0,213h3V217h-3zM795.0,217h3V232h-3zM811.0,199h3V208h-3zM815.0,208h3V209h-3zM821.0,207h3V223h-3zM824.0,222h3V251h-3zM828.0,250h3V264h-3zM838.0,219h3V233h-3zM854.0,147h3V148h-3zM857.0,148h3V153h-3zM867.0,81h3V109h-3zM870.0,108h3V124h-3zM874.0,123h3V126h-3zM880.0,118h3V141h-3zM883.0,140h3V172h-3zM890.0,137h3V152h-3zM897.0,70h3V78h-3zM903.0,77h3V132h-3zM910.0,101h3V114h-3zM916.0,113h3V134h-3zM926.0,129h3V141h-3zM936.0,121h3V143h-3zM942.0,140h3V146h-3zM965.0,86h3V93h-3zM969.0,92h3V102h-3zM972.0,101h3V113h-3zM975.0,112h3V116h-3zM982.0,103h3V104h-3zM985.0,103h3V120h-3zM991.0,117h3V123h-3zM995.0,122h3V156h-3zM998.0,156h3V161h-3zM1001.0,160h3V161h-3zM1005.0,161h3V199h-3zM1011.0,177h3V180h-3zM1021.0,153h3V163h-3zM1034.0,113h3V117h-3zM1044.0,90h3V123h-3zM1050.0,111h3V133h-3zM1054.0,132h3V205h-3zM1057.0,204h3V216h-3zM1067.0,149h3V165h-3zM1070.0,165h3V185h-3zM1073.0,184h3V197h-3zM1077.0,196h3V205h-3zM1086.0,184h3V185h-3zM1090.0,184h3V200h-3zM1093.0,199h3V209h-3zM1109.0,160h3V167h-3zM1113.0,166h3V184h-3zM1116.0,184h3V196h-3zM1119.0,195h3V209h-3zM1132.0,194h3V236h-3zM1136.0,235h3V278h-3zM1142.0,259h3V273h-3zM1149.0,257h3V263h-3zM1155.0,237h3V239h-3zM1158.0,239h3V260h-3zM1162.0,259h3V260h-3zM1165.0,260h3V284h-3zM1168.0,284h3V301h-3zM1175.0,293h3V304h-3zM1178.0,303h3V312h-3zM1185.0,299h3V312h-3zM1188.0,312h3V339h-3zM1191.0,338h3V348h-3zM1208.0,322h3V323h-3z" fill="#ef5350" shape-rendering="crispEdges"/></g><g clip-path="url(#cr)"><path d="M10.0,622.3L13.5,634.9L17.4,612.2L20.7,621.9L23.6,620.7L27.4,614.2L30.3,613.6L33.2,621.3L36.1,627.1L40.0,611.6L42.9,618.4L45.8,606.4L53.6,606.4L55.5,643.6L58.8,653.3L63.3,637.8L69.1,632.4L72.0,636.2L75.8,630.0L78.7,628.1L81.6,636.8L85.5,664.9L88.4,685.8L91.7,680.4L95.2,689.7L99.1,693.5L103.0,677.5L105.9,671.7L108.4,671.7L112.6,685.2L115.0,685.2L118.1,677.5L121.3,680.8L125.2,681.3L128.5,683.3L131.6,677.5L134.9,667.8L137.8,649.4L140.7,645.1L143.6,647.5L147.9,642.6L151.0,678.4L154.3,684.3L158.1,692.4L162.0,686.2L164.9,684.3L167.2,686.2L171.1,697.8L174.6,678.4L176.9,659.1L180.4,673.6L183.9,657.1L187.2,672.6L190.5,680.0L194.0,672.6L196.9,669.1L199.8,676.1L202.7,666.4L206.6,668.8L209.5,668.8L212.9,676.9L216.2,681.3L220.1,691.6L223.0,686.2L225.9,669.7L229.8,663.9L232.7,678.4L235.6,700.7L238.5,700.1L243.3,709.4L245.9,702.6L249.2,708.5L253.0,712.9L256.9,711.8L258.9,711.8L262.4,706.5L265.7,710.4L268.6,690.4L271.5,695.5L274.4,688.5L278.2,691.0L281.7,694.9L285.0,681.9L288.9,689.1L292.2,683.3L295.3,679.4L298.0,688.1L301.5,672.6L305.0,664.9L307.7,696.8L310.2,697.8L314.1,709.4L317.0,712.3L320.8,717.6L324.7,718.7L327.8,676.1L330.9,703.6L334.4,700.1L337.9,693.0L341.2,695.9L344.1,700.1L347.0,692.4L350.9,703.6L354.1,714.3L357.2,707.5L360.5,707.9L363.8,710.4L366.9,703.2L370.2,700.7L373.5,704.0L376.6,698.8L379.9,697.4L382.8,679.4L386.3,685.2L389.6,688.1L393.5,685.2L397.3,681.3L399.8,669.7L402.6,671.1L406.0,680.0L409.9,680.8L412.8,693.0L415.7,701.3L419.2,704.0L422.5,701.7L425.8,684.3L428.9,697.8L432.2,693.9L435.5,693.0L439.0,694.9L441.3,718.7L444.8,721.4L448.6,727.8L452.1,690.4L456.0,704.6L459.3,693.9L461.8,685.8L465.1,689.1L468.6,686.2L471.9,689.7L475.2,691.6L478.7,690.4L481.6,689.7L485.1,684.3L488.3,688.1L492.2,690.1L495.1,655.2L498.0,649.8L500.0,654.5L501.3,654.2L503.9,652.5L507.7,646.3L511.2,652.1L514.5,651.2L517.8,651.8L520.9,652.5L524.2,643.4L527.5,642.5L530.6,644.8L534.5,651.8L537.8,649.8L541.1,650.2L544.5,652.5L547.1,594.0L550.7,583.4L553.8,573.1L556.5,588.2L560.4,591.7L563.9,582.8L567.4,597.0L570.1,606.6L573.2,609.5L577.1,620.8L580.4,618.8L583.3,616.3L586.2,616.9L589.5,614.4L593.0,603.7L595.9,631.2L599.1,631.2L602.6,629.3L606.1,627.0L608.8,616.9L612.7,615.0L615.8,625.0L619.1,645.4L622.0,646.3L625.9,644.4L628.8,635.1L632.6,637.6L635.9,636.3L639.0,672.5L642.3,660.9L645.6,654.5L649.1,656.4L652.0,632.8L654.9,620.2L658.8,628.5L661.7,648.3L665.0,658.0L668.1,665.3L671.4,663.4L674.7,663.4L678.2,668.6L681.6,665.7L684.9,666.1L687.8,681.2L690.7,696.7L694.6,706.0L697.9,673.4L700.4,669.6L703.3,671.9L706.8,673.1L710.1,672.5L713.4,670.5L716.9,658.9L720.8,661.4L724.2,675.0L727.0,648.7L730.4,645.4L733.9,659.9L736.6,658.9L740.1,650.2L744.0,655.0L747.1,644.4L750.2,621.2L753.1,609.9L756.6,609.2L760.1,611.9L763.4,608.6L767.3,605.3L770.2,596.0L773.1,584.4L776.0,579.5L779.5,576.6L782.8,574.3L786.1,569.3L789.2,568.9L792.4,573.1L795.7,596.0L799.6,592.5L803.1,591.7L806.6,590.2L808.9,583.4L812.4,598.3L815.7,599.5L819.0,598.9L822.1,621.2L824.8,654.1L828.7,665.7L831.8,650.2L835.0,633.2L838.9,646.3L841.8,639.6L845.3,622.1L848.6,615.7L851.9,605.3L855.4,606.1L858.3,609.2L861.6,594.0L865.1,588.6L868.9,613.4L871.8,622.1L875.1,623.1L878.2,621.2L880.9,637.6L884.0,658.3L887.9,642.5L890.6,650.2L894.1,621.5L897.0,624.1L900.9,625.4L904.2,653.7L907.3,642.8L910.6,647.9L913.9,649.2L917.0,658.3L920.3,657.6L923.5,656.4L927.0,662.8L930.5,660.9L933.8,652.5L937.1,664.1L940.2,664.7L942.9,666.7L946.8,664.1L950.3,663.8L953.8,662.8L956.5,658.0L959.9,648.7L963.4,628.5L966.7,634.3L970.0,640.5L973.5,650.2L976.4,653.1L979.3,644.8L982.8,644.8L986.1,658.9L989.4,658.3L992.4,662.5L995.2,687.7L998.7,691.3L1002.0,692.3L1005.9,713.6L1009.0,693.3L1011.7,694.3L1015.2,678.8L1018.7,672.0L1022.0,677.8L1025.2,654.6L1028.3,645.8L1031.6,643.5L1035.5,646.8L1038.4,641.6L1041.9,630.0L1045.2,655.9L1048.1,649.7L1051.6,672.0L1054.9,700.1L1058.2,704.9L1060.7,672.0L1064.0,667.1L1067.5,673.0L1071.3,682.6L1075.2,687.5L1078.1,690.8L1081.4,685.5L1084.5,677.8L1087.8,680.7L1091.1,685.5L1094.2,690.0L1097.5,683.6L1100.8,677.2L1104.3,674.5L1107.2,657.1L1110.4,660.4L1113.9,670.0L1117.4,678.8L1120.7,686.1L1123.6,682.6L1127.1,677.8L1129.8,675.3L1133.3,698.1L1136.8,716.5L1140.1,702.0L1143.4,707.4L1146.5,695.8L1149.8,697.2L1152.7,680.3L1156.2,680.7L1159.4,690.8L1162.7,691.3L1165.8,701.0L1169.1,709.4L1172.4,703.9L1175.9,707.4L1178.8,711.3L1182.1,700.4L1185.6,705.9L1189.1,716.5L1192.4,720.4L1195.3,719.8L1198.8,715.6L1202.0,695.8L1205.3,695.2L1209.4,695.8L1209.4,613.6L10.0,613.6Z" fill="url(#gg)" clip-path="url(#c70)"/><path d="M11.9,629.3C14.8,628.6 24.5,626.6 29.4,625.2C34.2,623.8 37.1,622.0 41.0,620.7C44.9,619.4 48.4,617.1 52.6,617.4C56.8,617.8 61.5,621.1 66.2,622.7C70.8,624.3 76.8,624.4 80.7,627.1C84.6,629.8 86.3,634.3 89.4,638.7C92.5,643.2 96.2,650.3 99.1,653.7C102.0,657.0 103.6,656.1 106.8,659.1C110.1,662.1 115.2,668.3 118.4,671.7C121.7,675.1 124.1,677.7 126.2,679.4C128.3,681.1 129.1,682.1 131.0,681.9C133.0,681.8 134.9,680.5 137.8,678.4C140.7,676.4 144.6,671.0 148.5,669.7C152.3,668.5 156.7,670.5 161.0,671.1C165.4,671.6 170.7,672.8 174.6,673.0C178.5,673.3 181.1,671.7 184.3,672.6C187.5,673.6 190.7,678.2 194.0,678.8C197.2,679.5 199.8,677.6 203.6,676.5C207.5,675.4 212.7,672.5 217.2,672.2C221.7,672.0 226.6,673.4 230.8,675.0C235.0,676.5 238.8,679.0 242.4,681.3C245.9,683.7 248.0,686.2 252.1,689.1C256.1,692.0 262.3,696.4 266.6,698.8C271.0,701.2 274.4,703.5 278.2,703.6C282.1,703.8 286.3,701.4 289.9,699.7C293.4,698.1 296.8,695.5 299.5,693.5C302.3,691.5 304.2,688.8 306.3,687.7C308.4,686.7 309.7,686.5 312.1,687.2C314.5,687.8 318.4,690.6 320.8,691.6C323.3,692.6 324.1,692.3 326.6,693.0C329.2,693.7 333.1,694.9 336.3,695.9C339.6,696.8 343.1,697.6 346.0,698.8C348.9,699.9 351.2,701.8 353.8,702.6C356.3,703.5 358.6,703.8 361.5,703.6C364.4,703.5 367.6,702.1 371.2,701.7C374.7,701.3 378.9,701.8 382.8,701.3C386.7,700.8 391.2,700.2 394.4,698.8C397.7,697.4 399.3,694.8 402.2,693.0C405.1,691.1 408.6,688.7 411.9,687.7C415.1,686.8 418.6,687.2 421.5,687.2C424.4,687.2 426.4,687.3 429.3,687.7C432.2,688.2 435.7,687.6 439.0,689.7C442.2,691.7 445.6,698.0 448.6,700.1C451.7,702.3 454.1,702.8 457.4,702.6C460.6,702.5 463.7,700.1 468.0,699.4C472.4,698.6 479.3,699.4 483.5,698.2C487.7,697.0 490.4,694.6 493.2,692.0C495.9,689.4 497.3,685.8 500.0,682.7C502.7,679.6 506.5,676.3 509.7,673.4C512.9,670.6 516.1,668.6 519.4,665.7C522.6,662.8 526.1,658.7 529.0,656.0C532.0,653.4 534.4,650.9 536.8,649.8C539.2,648.7 541.0,651.3 543.6,649.2C546.2,647.2 548.6,642.8 552.3,637.6C556.0,632.5 561.6,622.9 565.8,618.3C570.0,613.6 574.2,612.0 577.5,609.5C580.7,607.1 582.9,605.1 585.2,603.7C587.5,602.4 588.3,599.7 591.5,601.3C594.7,602.9 600.5,610.1 604.6,613.4C608.7,616.7 612.6,619.1 616.2,621.2C619.7,623.3 622.6,624.4 625.9,626.0C629.1,627.6 633.0,629.0 635.6,630.8C638.1,632.7 639.1,635.3 641.4,637.0C643.6,638.8 646.2,640.5 649.1,641.5C652.0,642.5 655.2,641.7 658.8,642.8C662.3,644.0 666.9,646.3 670.4,648.3C674.0,650.2 677.5,653.4 680.1,654.5C682.7,655.5 683.3,652.9 685.9,654.5C688.5,656.0 692.7,660.9 695.6,663.8C698.5,666.6 700.4,669.6 703.3,671.5C706.2,673.4 709.8,674.5 713.0,675.0C716.2,675.5 719.5,675.1 722.7,674.4C725.9,673.8 729.5,672.9 732.4,671.1C735.3,669.3 737.7,665.6 740.1,663.8C742.5,662.0 744.5,662.9 746.9,660.3C749.3,657.7 751.4,652.2 754.7,648.3C757.9,644.3 762.1,642.1 766.3,636.6C770.5,631.2 776.0,622.4 779.9,615.3C783.7,608.2 787.0,598.3 789.5,594.0C792.1,589.8 792.8,591.1 795.3,589.8C797.9,588.5 802.3,587.3 805.0,586.3C807.8,585.3 809.7,584.3 811.8,584.0C813.9,583.7 815.8,583.5 817.6,584.4C819.4,585.2 820.4,586.0 822.5,589.2C824.6,592.4 827.6,599.4 830.2,603.7C832.8,608.0 835.4,611.8 838.0,615.0C840.5,618.1 842.8,620.8 845.7,622.7C848.6,624.6 852.5,625.9 855.4,626.6C858.3,627.2 860.5,627.2 863.1,626.6C865.7,625.9 868.3,624.2 870.9,622.7C873.5,621.2 875.7,618.3 878.6,617.7C881.5,617.0 885.1,618.0 888.3,618.8C891.5,619.7 895.1,621.0 898.0,622.7C900.9,624.4 902.8,626.3 905.7,628.9C908.6,631.6 911.9,635.7 915.4,638.6C919.0,641.4 923.5,644.3 927.0,645.9C930.6,647.6 933.5,646.4 936.7,648.3C939.9,650.1 942.8,655.0 946.4,657.0C949.9,659.0 954.5,660.5 958.0,660.3C961.6,660.0 964.1,656.9 967.7,655.6C971.2,654.3 975.4,653.4 979.3,652.5C983.2,651.7 987.9,650.1 990.9,650.6C994.0,651.1 995.0,652.9 997.7,655.5C1000.5,658.1 1004.2,663.0 1007.4,666.2C1010.7,669.3 1013.9,672.7 1017.1,674.5C1020.3,676.3 1023.6,677.1 1026.8,677.2C1030.0,677.3 1033.2,676.7 1036.5,674.9C1039.7,673.0 1043.6,668.4 1046.2,666.2C1048.7,663.9 1050.0,662.0 1052.0,661.3C1053.9,660.7 1055.2,662.3 1057.8,662.3C1060.4,662.3 1064.6,660.6 1067.5,661.3C1070.4,662.1 1072.0,664.2 1075.2,666.8C1078.4,669.3 1083.3,673.9 1086.8,676.8C1090.4,679.7 1093.3,683.7 1096.5,684.2C1099.7,684.7 1103.0,680.7 1106.2,679.7C1109.4,678.8 1112.6,678.8 1115.9,678.4C1119.1,678.0 1122.6,677.0 1125.6,677.2C1128.5,677.4 1130.1,678.3 1133.3,679.7C1136.5,681.1 1140.7,683.5 1144.9,685.5C1149.1,687.6 1154.3,690.2 1158.5,691.9C1162.7,693.7 1166.5,694.9 1170.1,696.2C1173.6,697.5 1176.9,699.2 1179.8,699.7C1182.7,700.2 1184.9,698.5 1187.5,699.1C1190.1,699.6 1193.2,701.7 1195.3,703.0C1197.4,704.3 1199.3,706.2 1200.1,706.8" stroke="#fdd835" stroke-width="1.3" fill="none"/><path d="M10.0,622.3L13.5,634.9L17.4,612.2L20.7,621.9L23.6,620.7L27.4,614.2L30.3,613.6L33.2,621.3L36.1,627.1L40.0,611.6L42.9,618.4L45.8,606.4L53.6,606.4L55.5,643.6L58.8,653.3L63.3,637.8L69.1,632.4L72.0,636.2L75.8,630.0L78.7,628.1L81.6,636.8L85.5,664.9L88.4,685.8L91.7,680.4L95.2,689.7L99.1,693.5L103.0,677.5L105.9,671.7L108.4,671.7L112.6,685.2L115.0,685.2L118.1,677.5L121.3,680.8L125.2,681.3L128.5,683.3L131.6,677.5L134.9,667.8L137.8,649.4L140.7,645.1L143.6,647.5L147.9,642.6L151.0,678.4L154.3,684.3L158.1,692.4L162.0,686.2L164.9,684.3L167.2,686.2L171.1,697.8L174.6,678.4L176.9,659.1L180.4,673.6L183.9,657.1L187.2,672.6L190.5,680.0L194.0,672.6L196.9,669.1L199.8,676.1L202.7,666.4L206.6,668.8L209.5,668.8L212.9,676.9L216.2,681.3L220.1,691.6L223.0,686.2L225.9,669.7L229.8,663.9L232.7,678.4L235.6,700.7L238.5,700.1L243.3,709.4L245.9,702.6L249.2,708.5L253.0,712.9L256.9,711.8L258.9,711.8L262.4,706.5L265.7,710.4L268.6,690.4L271.5,695.5L274.4,688.5L278.2,691.0L281.7,694.9L285.0,681.9L288.9,689.1L292.2,683.3L295.3,679.4L298.0,688.1L301.5,672.6L305.0,664.9L307.7,696.8L310.2,697.8L314.1,709.4L317.0,712.3L320.8,717.6L324.7,718.7L327.8,676.1L330.9,703.6L334.4,700.1L337.9,693.0L341.2,695.9L344.1,700.1L347.0,692.4L350.9,703.6L354.1,714.3L357.2,707.5L360.5,707.9L363.8,710.4L366.9,703.2L370.2,700.7L373.5,704.0L376.6,698.8L379.9,697.4L382.8,679.4L386.3,685.2L389.6,688.1L393.5,685.2L397.3,681.3L399.8,669.7L402.6,671.1L406.0,680.0L409.9,680.8L412.8,693.0L415.7,701.3L419.2,704.0L422.5,701.7L425.8,684.3L428.9,697.8L432.2,693.9L435.5,693.0L439.0,694.9L441.3,718.7L444.8,721.4L448.6,727.8L452.1,690.4L456.0,704.6L459.3,693.9L461.8,685.8L465.1,689.1L468.6,686.2L471.9,689.7L475.2,691.6L478.7,690.4L481.6,689.7L485.1,684.3L488.3,688.1L492.2,690.1L495.1,655.2L498.0,649.8L500.0,654.5L501.3,654.2L503.9,652.5L507.7,646.3L511.2,652.1L514.5,651.2L517.8,651.8L520.9,652.5L524.2,643.4L527.5,642.5L530.6,644.8L534.5,651.8L537.8,649.8L541.1,650.2L544.5,652.5L547.1,594.0L550.7,583.4L553.8,573.1L556.5,588.2L560.4,591.7L563.9,582.8L567.4,597.0L570.1,606.6L573.2,609.5L577.1,620.8L580.4,618.8L583.3,616.3L586.2,616.9L589.5,614.4L593.0,603.7L595.9,631.2L599.1,631.2L602.6,629.3L606.1,627.0L608.8,616.9L612.7,615.0L615.8,625.0L619.1,645.4L622.0,646.3L625.9,644.4L628.8,635.1L632.6,637.6L635.9,636.3L639.0,672.5L642.3,660.9L645.6,654.5L649.1,656.4L652.0,632.8L654.9,620.2L658.8,628.5L661.7,648.3L665.0,658.0L668.1,665.3L671.4,663.4L674.7,663.4L678.2,668.6L681.6,665.7L684.9,666.1L687.8,681.2L690.7,696.7L694.6,706.0L697.9,673.4L700.4,669.6L703.3,671.9L706.8,673.1L710.1,672.5L713.4,670.5L716.9,658.9L720.8,661.4L724.2,675.0L727.0,648.7L730.4,645.4L733.9,659.9L736.6,658.9L740.1,650.2L744.0,655.0L747.1,644.4L750.2,621.2L753.1,609.9L756.6,609.2L760.1,611.9L763.4,608.6L767.3,605.3L770.2,596.0L773.1,584.4L776.0,579.5L779.5,576.6L782.8,574.3L786.1,569.3L789.2,568.9L792.4,573.1L795.7,596.0L799.6,592.5L803.1,591.7L806.6,590.2L808.9,583.4L812.4,598.3L815.7,599.5L819.0,598.9L822.1,621.2L824.8,654.1L828.7,665.7L831.8,650.2L835.0,633.2L838.9,646.3L841.8,639.6L845.3,622.1L848.6,615.7L851.9,605.3L855.4,606.1L858.3,609.2L861.6,594.0L865.1,588.6L868.9,613.4L871.8,622.1L875.1,623.1L878.2,621.2L880.9,637.6L884.0,658.3L887.9,642.5L890.6,650.2L894.1,621.5L897.0,624.1L900.9,625.4L904.2,653.7L907.3,642.8L910.6,647.9L913.9,649.2L917.0,658.3L920.3,657.6L923.5,656.4L927.0,662.8L930.5,660.9L933.8,652.5L937.1,664.1L940.2,664.7L942.9,666.7L946.8,664.1L950.3,663.8L953.8,662.8L956.5,658.0L959.9,648.7L963.4,628.5L966.7,634.3L970.0,640.5L973.5,650.2L976.4,653.1L979.3,644.8L982.8,644.8L986.1,658.9L989.4,658.3L992.4,662.5L995.2,687.7L998.7,691.3L1002.0,692.3L1005.9,713.6L1009.0,693.3L1011.7,694.3L1015.2,678.8L1018.7,672.0L1022.0,677.8L1025.2,654.6L1028.3,645.8L1031.6,643.5L1035.5,646.8L1038.4,641.6L1041.9,630.0L1045.2,655.9L1048.1,649.7L1051.6,672.0L1054.9,700.1L1058.2,704.9L1060.7,672.0L1064.0,667.1L1067.5,673.0L1071.3,682.6L1075.2,687.5L1078.1,690.8L1081.4,685.5L1084.5,677.8L1087.8,680.7L1091.1,685.5L1094.2,690.0L1097.5,683.6L1100.8,677.2L1104.3,674.5L1107.2,657.1L1110.4,660.4L1113.9,670.0L1117.4,678.8L1120.7,686.1L1123.6,682.6L1127.1,677.8L1129.8,675.3L1133.3,698.1L1136.8,716.5L1140.1,702.0L1143.4,707.4L1146.5,695.8L1149.8,697.2L1152.7,680.3L1156.2,680.7L1159.4,690.8L1162.7,691.3L1165.8,701.0L1169.1,709.4L1172.4,703.9L1175.9,707.4L1178.8,711.3L1182.1,700.4L1185.6,705.9L1189.1,716.5L1192.4,720.4L1195.3,719.8L1198.8,715.6L1202.0,695.8L1205.3,695.2L1209.4,695.8" stroke="#7e57c2" stroke-width="3" fill="none" stroke-linejoin="round" stroke-linecap="round"/></g><path d="M1277.5,28V765M11,559.5H1342M11,738.5H1342" stroke="#e0e3eb" stroke-width="1" fill="none" shape-rendering="crispEdges"/><g transform="translate(1209.6,546.3)"><circle r="11.6" fill="#fff"/><path d="M9.32,-3.03A9.8,9.8 0 1 1 3.19,-9.27" fill="none" stroke="#9c27b0" stroke-width="1.5" stroke-linecap="round"/><path d="M2.5,-5.1L-4.2,0.2L-0.4,0.55L-3.5,5.5L3.8,-0.1L0.25,-0.3Z" fill="#9c27b0" stroke="#9c27b0" stroke-width="0.5" stroke-linejoin="round"/><circle cx="6.9" cy="-6.8" r="2.6" fill="#f23645"/></g><g fill="#131722"><path d="M12,788.2h12.3v14.4h-6.4v-9.3H12z"/><circle cx="28.9" cy="790.7" r="2.5"/><path d="M34.6,788.2h7.3l-5.0,14.4h-8.0z"/></g></svg>
<div id="txt" style="position:absolute;left:0;top:0;width:1353px;height:826px;will-change:transform">
<div class="t" style="left:10px;top:6.5px;font-size:12px;line-height:16px;color:#131722;font-weight:400;">ranadagger created with TradingView.com, Nov 26, 2025 16:33 UTC</div><div class="t" style="left:18px;top:33.5px;font-size:12px;line-height:16px;color:#131722;font-weight:400;">Ethereum / TetherUS · 1D · Binance</div><div class="t" style="left:218px;top:33.5px;font-size:12px;line-height:16px;color:#131722;font-weight:400;">O<span style="color:#ef5350">2,959.36</span></div><div class="t" style="left:279.7px;top:33.5px;font-size:12px;line-height:16px;color:#131722;font-weight:400;">H<span style="color:#ef5350">2,984.00</span></div><div class="t" style="left:341.7px;top:33.5px;font-size:12px;line-height:16px;color:#131722;font-weight:400;">L<span style="color:#ef5350">2,888.69</span></div><div class="t" style="left:401.8px;top:33.5px;font-size:12px;line-height:16px;color:#131722;font-weight:400;">C<span style="color:#ef5350">2,952.78</span></div><div class="t" style="left:462.5px;top:33.5px;font-size:12px;line-height:16px;color:#ef5350;font-weight:400;">−6.58 (−0.22%)</div><div class="t" style="left:18px;top:50.5px;font-size:12px;line-height:16px;color:#131722;font-weight:400;transform:scaleX(0.97);transform-origin:left center;">EMA (20, close)</div><div class="t" style="left:107.5px;top:50.5px;font-size:12px;line-height:16px;color:#2962ff;font-weight:400;">3,120.99</div><div class="t" style="left:18px;top:67.5px;font-size:12px;line-height:16px;color:#131722;font-weight:400;transform:scaleX(0.97);transform-origin:left center;">SMA (50, close)</div><div class="t" style="left:107px;top:67.5px;font-size:12px;line-height:16px;color:#f23645;font-weight:400;">3,596.94</div><div class="t" style="left:18px;top:567.0px;font-size:12px;line-height:16px;color:#131722;font-weight:400;transform:scaleX(0.96);transform-origin:left center;">RSI (14, close)</div><div class="t" style="left:102px;top:567.0px;font-size:12px;line-height:16px;color:#7e57c2;font-weight:400;">37.58</div><div class="t" style="left:138.5px;top:567.0px;font-size:12px;line-height:16px;color:#fdd835;font-weight:400;">32.95</div><div class="t" style="left:1286px;top:541.5px;font-size:12px;line-height:16px;color:#131722;font-weight:400;">1,250.00</div><div class="t" style="left:1286px;top:508.1px;font-size:12px;line-height:16px;color:#131722;font-weight:400;">1,500.00</div><div class="t" style="left:1286px;top:474.6px;font-size:12px;line-height:16px;color:#131722;font-weight:400;">1,750.00</div><div class="t" style="left:1286px;top:441.2px;font-size:12px;line-height:16px;color:#131722;font-weight:400;">2,000.00</div><div class="t" style="left:1286px;top:407.7px;font-size:12px;line-height:16px;color:#131722;font-weight:400;">2,250.00</div><div class="t" style="left:1286px;top:374.3px;font-size:12px;line-height:16px;color:#131722;font-weight:400;">2,500.00</div><div class="t" style="left:1286px;top:340.9px;font-size:12px;line-height:16px;color:#131722;font-weight:400;">2,750.00</div><div class="t" style="left:1286px;top:307.4px;font-size:12px;line-height:16px;color:#131722;font-weight:400;">3,000.00</div><div class="t" style="left:1286px;top:274.0px;font-size:12px;line-height:16px;color:#131722;font-weight:400;">3,250.00</div><div class="t" style="left:1286px;top:240.6px;font-size:12px;line-height:16px;color:#131722;font-weight:400;">3,500.00</div><div class="t" style="left:1286px;top:207.1px;font-size:12px;line-height:16px;color:#131722;font-weight:400;">3,750.00</div><div class="t" style="left:1286px;top:173.7px;font-size:12px;line-height:16px;color:#131722;font-weight:400;">4,000.00</div><div class="t" style="left:1286px;top:140.3px;font-size:12px;line-height:16px;color:#131722;font-weight:400;">4,250.00</div><div class="t" style="left:1286px;top:106.8px;font-size:12px;line-height:16px;color:#131722;font-weight:400;">4,500.00</div><div class="t" style="left:1286px;top:73.4px;font-size:12px;line-height:16px;color:#131722;font-weight:400;">4,750.00</div><div class="t" style="left:1286px;top:580.4px;font-size:12px;line-height:16px;color:#131722;font-weight:400;">80.00</div><div class="t" style="left:1286px;top:630.8px;font-size:12px;line-height:16px;color:#131722;font-weight:400;">60.00</div><div class="t" style="left:1286px;top:681.1px;font-size:12px;line-height:16px;color:#131722;font-weight:400;">40.00</div><div class="b" style="left:1281px;top:31px;width:58px;height:26px;border:1px solid #e0e3eb;border-radius:4px;background:#fff"></div><div class="t" style="left:1290px;top:37.2px;font-size:12px;line-height:16px;color:#131722;font-weight:400;">USDT</div><div class="t" style="left:-69.6px;width:200px;text-align:center;top:744.0px;font-size:12px;line-height:16px;color:#131722;font-weight:400;">Dec</div><div class="t" style="left:31.5px;width:200px;text-align:center;top:744.0px;font-size:12px;line-height:16px;color:#131722;font-weight:700;">2025</div><div class="t" style="left:133.5px;width:200px;text-align:center;top:744.0px;font-size:12px;line-height:16px;color:#131722;font-weight:400;">Feb</div><div class="t" style="left:225.60000000000002px;width:200px;text-align:center;top:744.0px;font-size:12px;line-height:16px;color:#131722;font-weight:400;">Mar</div><div class="t" style="left:326.5px;width:200px;text-align:center;top:744.0px;font-size:12px;line-height:16px;color:#131722;font-weight:400;">Apr</div><div class="t" style="left:424.6px;width:200px;text-align:center;top:744.0px;font-size:12px;line-height:16px;color:#131722;font-weight:400;">May</div><div class="t" style="left:526.4px;width:200px;text-align:center;top:744.0px;font-size:12px;line-height:16px;color:#131722;font-weight:400;">Jun</div><div class="t" style="left:624.7px;width:200px;text-align:center;top:744.0px;font-size:12px;line-height:16px;color:#131722;font-weight:400;">Jul</div><div class="t" style="left:725.8px;width:200px;text-align:center;top:744.0px;font-size:12px;line-height:16px;color:#131722;font-weight:400;">Aug</div><div class="t" style="left:827.5px;width:200px;text-align:center;top:744.0px;font-size:12px;line-height:16px;color:#131722;font-weight:400;">Sep</div><div class="t" style="left:925.5px;width:200px;text-align:center;top:744.0px;font-size:12px;line-height:16px;color:#131722;font-weight:400;">Oct</div><div class="t" style="left:1027.6px;width:200px;text-align:center;top:744.0px;font-size:12px;line-height:16px;color:#131722;font-weight:400;">Nov</div><div class="t" style="left:1125.6px;width:200px;text-align:center;top:744.0px;font-size:12px;line-height:16px;color:#131722;font-weight:400;">Dec</div><div class="b" style="left:1227px;top:228.5px;width:50px;height:16.0px;background:#f23645;border-radius:3px 0 0 3px;"></div><div class="t" style="left:973px;width:300px;text-align:right;top:228.6px;font-size:12px;line-height:16px;color:#fff;font-weight:400;transform:scaleX(0.87);transform-origin:right center;">SMA:MA</div><div class="b" style="left:1278px;top:228.5px;width:60px;height:16.0px;background:#f23645;border-radius:0 3px 3px 0;"></div><div class="t" style="left:1286px;top:228.6px;font-size:12px;line-height:16px;color:#fff;font-weight:400;">3,596.94</div><div class="b" style="left:1278px;top:261px;width:60px;height:17px;background:#0000ff;border-radius:0 3px 3px 0;"></div><div class="t" style="left:1286px;top:261.6px;font-size:12px;line-height:16px;color:#fff;font-weight:400;">3,350.00</div><div class="b" style="left:1246.5px;top:291px;width:30.5px;height:16.5px;background:#2962ff;border-radius:3px 0 0 3px;"></div><div class="t" style="left:972.5px;width:300px;text-align:right;top:291.4px;font-size:12px;line-height:16px;color:#fff;font-weight:400;transform:scaleX(0.84);transform-origin:right center;">EMA</div><div class="b" style="left:1278px;top:291px;width:60px;height:16.5px;background:#2962ff;border-radius:0 3px 3px 0;"></div><div class="t" style="left:1286px;top:291.4px;font-size:12px;line-height:16px;color:#fff;font-weight:400;">3,120.99</div><div class="b" style="left:1219px;top:314px;width:58px;height:17px;background:#ef5350;border-radius:3px 0 0 3px;"></div><div class="t" style="left:971.5px;width:300px;text-align:right;top:314.6px;font-size:12px;line-height:16px;color:#fff;font-weight:400;transform:scaleX(0.835);transform-origin:right center;">ETHUSDT</div><div class="b" style="left:1278px;top:314px;width:60px;height:44.69999999999999px;background:#ef5350;border-radius:0 3px 3px 0;"></div><div class="t" style="left:1286px;top:314.3px;font-size:12px;line-height:16px;color:#fff;font-weight:400;">2,952.78</div><div class="t" style="left:1286px;top:328.3px;font-size:12px;line-height:16px;color:#fff;font-weight:400;">−12.15%</div><div class="t" style="left:1286px;top:342.0px;font-size:12px;line-height:16px;color:rgba(255,255,255,0.72);font-weight:400;">07:26:30</div><div class="b" style="left:1252.5px;top:688px;width:24.5px;height:16.5px;background:#7e57c2;border-radius:3px 0 0 3px;"></div><div class="t" style="left:972.5px;width:300px;text-align:right;top:688.3px;font-size:12px;line-height:16px;color:#fff;font-weight:400;transform:scaleX(0.78);transform-origin:right center;">RSI</div><div class="b" style="left:1278px;top:688px;width:43px;height:16.5px;background:#7e57c2;border-radius:0 3px 3px 0;"></div><div class="t" style="left:1286px;top:688.3px;font-size:12px;line-height:16px;color:#fff;font-weight:400;">37.58</div><div class="b" style="left:1198.5px;top:705.5px;width:78.5px;height:16.5px;background:#fdd835;border-radius:3px 0 0 3px;"></div><div class="t" style="left:973px;width:300px;text-align:right;top:705.6px;font-size:12px;line-height:16px;color:#131722;font-weight:400;transform:scaleX(0.905);transform-origin:right center;">RSI-based MA</div><div class="b" style="left:1278px;top:705.5px;width:43px;height:16.5px;background:#fdd835;border-radius:0 3px 3px 0;"></div><div class="t" style="left:1286px;top:705.6px;font-size:12px;line-height:16px;color:#131722;font-weight:400;">32.95</div><div class="t" style="left:49px;top:783px;font-size:20.4px;line-height:26px;font-weight:700;color:#131722;letter-spacing:0.1px">TradingView</div>
</div>
</body></html>
